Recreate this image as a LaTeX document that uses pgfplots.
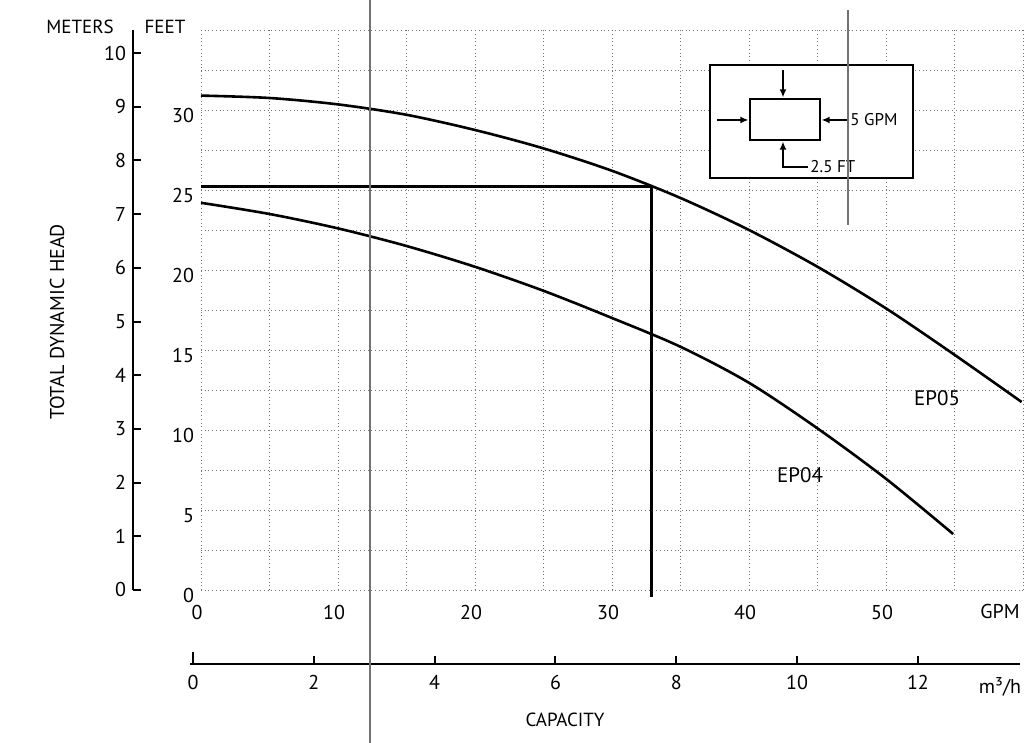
\documentclass[border=0pt]{standalone}
\usepackage{pgfplots}
\pgfplotsset{compat=1.18}
\usepackage{fontspec}
\setmainfont{PT Sans}
\usetikzlibrary{arrows.meta}

\pgfplotstableread{
gpm ft
0 30.9
5 30.75
10 30.35
15 29.7
20 28.75
25 27.6
30 26.2
35 24.5
40 22.5
45 20.2
50 17.6
55 14.7
59.9 11.75
}\epfive

\pgfplotstableread{
gpm ft
0 24.2
5 23.5
10 22.6
15 21.5
20 20.2
25 18.7
30 17.0
35 15.2
40 12.95
45 10.1
50 6.95
54.9 3.5
}\epfour

\begin{document}
\begin{tikzpicture}[x=1pt,y=1pt]
\path[use as bounding box] (0,0) rectangle (517,371.5);

% meters axis
\begin{axis}[at={(66.5pt,76.5pt)}, anchor=south west, scale only axis,
  width=1pt, height=280pt, xmin=0, xmax=1, ymin=0, ymax=10.43,
  axis y line*=left, axis x line=none,
  y axis line style={line width=1.2pt,-},
  ytick={0,1,...,10}, xtick=\empty,
  tick align=inside, major tick length=4pt,
  tick style={line width=1pt, black},
  yticklabel style={font=\fontsize{10}{12}\selectfont},
  /pgf/number format/assume math mode=true]
\end{axis}

% main axis
\begin{axis}[at={(100.5pt,76.5pt)}, anchor=south west, scale only axis,
  width=411pt, height=280pt, xmin=0, xmax=60, ymin=0, ymax=35,
  axis line style={draw=none}, major tick length=0pt, minor tick length=0pt,
  xtick={0,10,20,30,40,50}, minor xtick={5,15,25,35,45,55,60},
  ytick={0,5,10,15,20,25,30}, minor ytick={2.5,7.5,12.5,17.5,22.5,27.5,32.5,35},
  grid=both,
  grid style={black!55, line width=0.45pt, dash pattern=on 0.45pt off 1.4pt},
  minor grid style={black!55, line width=0.45pt, dash pattern=on 0.45pt off 1.4pt},
  tick label style={font=\fontsize{10}{12}\selectfont},
  xticklabel style={yshift=-4pt, xshift=-2pt},
  yticklabel style={yshift=-3pt},
  clip=false,
  /pgf/number format/assume math mode=true]
\addplot[black, line width=1.3pt, smooth] table[x=gpm,y=ft] {\epfive};
\addplot[black, line width=1.3pt, smooth] table[x=gpm,y=ft] {\epfour};
\addplot[black, line width=1.6pt, sharp plot] coordinates {(0,25.2) (32.9,25.2) (32.9,-0.45)};
\end{axis}

% m3/h axis
\begin{axis}[at={(95pt,39.5pt)}, anchor=south west, scale only axis,
  width=415pt, height=10pt, xmin=-0.05, xmax=13.69, ymin=0, ymax=1,
  axis x line*=bottom, axis y line=none,
  x axis line style={line width=1.2pt,-},
  xtick={2,4,6,8,10,12}, ytick=\empty,
  extra x ticks={0}, extra x tick style={major tick length=6pt},
  tick align=inside, major tick length=4pt,
  tick style={line width=1pt, black},
  xticklabel style={font=\fontsize{10}{12}\selectfont, yshift=-2pt},
  /pgf/number format/assume math mode=true]
\end{axis}

% texts
\node[font=\fontsize{9.5}{11}\selectfont] at (40,358) {METERS};
\node[font=\fontsize{9.5}{11}\selectfont] at (82.5,358) {FEET};
\node[font=\fontsize{10}{12}\selectfont, rotate=90] at (28.5,210.5) {TOTAL DYNAMIC HEAD};
\node[font=\fontsize{10}{12}\selectfont] at (500,65.5) {GPM};
\node[font=\fontsize{10}{12}\selectfont] at (500,28) {m³/h};
\node[font=\fontsize{9.5}{11}\selectfont] at (282.5,11.5) {CAPACITY};
\node[font=\fontsize{10.5}{12}\selectfont] at (468.5,172.5) {EP05};
\node[font=\fontsize{10.5}{12}\selectfont] at (400,134) {EP04};

% inset
\draw[line width=1pt, fill=white] (355,339) rectangle (456.5,282.5);
\draw[line width=1pt] (375,322) rectangle (410,301.5);
\draw[line width=0.8pt, -{Latex[length=4pt,width=3.5pt]}] (391.5,336.5) -- (391.5,322.8);
\draw[line width=0.8pt, -{Latex[length=4pt,width=3.5pt]}] (358.5,311.5) -- (374.2,311.5);
\draw[line width=0.8pt, -{Latex[length=4pt,width=3.5pt]}] (424,311.5) -- (410.8,311.5);
\draw[line width=0.8pt, -{Latex[length=4pt,width=3.5pt]}] (404,288) -- (391.5,288) -- (391.5,300.7);
\node[anchor=west, inner sep=0.5pt, font=\fontsize{8.5}{10}\selectfont] at (424.5,311.5) {5 GPM};
\node[anchor=west, inner sep=0.5pt, font=\fontsize{8.5}{10}\selectfont] at (404.5,288) {2.5 FT};

% scan artefact lines
\draw[black!55, line width=0.8pt] (185,0) -- (185,371.5);
\draw[black!55, line width=0.8pt] (424,366.5) -- (424,259);
\end{tikzpicture}
\end{document}
